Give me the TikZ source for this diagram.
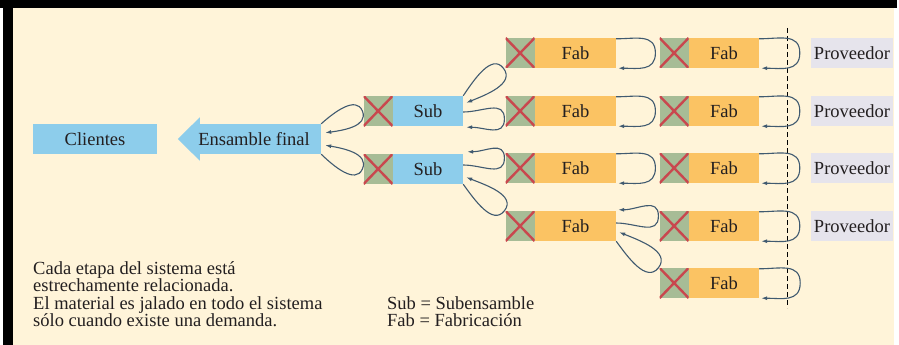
\documentclass[tikz,border=0pt]{standalone}
\usepackage{fontspec}
\setmainfont{Liberation Serif}
\usetikzlibrary{arrows.meta,calc}
\definecolor{cream}{HTML}{FFF4D9}
\definecolor{sky}{HTML}{8DCDEB}
\definecolor{amber}{HTML}{FBC363}
\definecolor{moss}{HTML}{A7BC96}
\definecolor{crossred}{HTML}{C9474E}
\definecolor{lilac}{HTML}{E6E4EC}
\definecolor{steel}{HTML}{405A70}
\definecolor{ink}{HTML}{231F20}
\begin{document}
\begin{tikzpicture}[x=1pt,y=1pt,
  every node/.style={inner sep=0pt, text=ink, font=\fontsize{18.5}{18.5}\selectfont},
  box/.style={rectangle, minimum height=30pt},
  kanban/.style={box, minimum width=29pt, fill=moss,
    path picture={\draw[crossred, line width=2.4pt]
      (path picture bounding box.north west) -- (path picture bounding box.south east)
      (path picture bounding box.south west) -- (path picture bounding box.north east);}},
  subbox/.style={box, minimum width=70pt, fill=sky},
  fabwide/.style={box, minimum width=81pt, fill=amber},
  fabnarrow/.style={box, minimum width=70pt, fill=amber},
  supplier/.style={box, minimum width=82pt, fill=lilac},
  kloop/.style={draw=steel, line width=1.1pt, -{Latex[length=6pt,width=4pt]}},
]
% frame and background
\useasboundingbox (0,0) rectangle (899,-345);
\fill[white] (0,0) rectangle (899,-345);
\fill[black] (0,0) rectangle (897,-8.5);
\fill[black] (2.5,0) rectangle (12.5,-345);
\fill[cream] (12.5,-8.5) rectangle (894,-345);

% customers and final assembly
\node[box, minimum width=124pt, fill=sky] (cli) at (95,-139) {Clientes};
\node[box, minimum width=121pt, fill=sky] (ens) at (260.5,-139) {};
\fill[sky] (ens.north west) -- ++(0,6.5) -- ($(ens.west)+(-22,0)$)
  -- ($(ens.south west)+(0,-6.5)$) -- (ens.south west) -- cycle;
\node (ensl) at ($(ens.center)+(-6.5,0)$) {Ensamble final};

% subassemblies
\node[subbox] (s1) at (428,-111) {Sub};
\node[kanban, anchor=east] (s1x) at (s1.west) {};
\node[subbox] (s2) at (428,-169) {Sub};
\node[kanban, anchor=east] (s2x) at (s2.west) {};

% fabrication stages
\foreach \r/\y in {1/53,2/111,3/168,4/226} {
  \node[fabwide] (f\r1) at (575.5,-\y) {Fab};
  \node[kanban, anchor=east] (f\r1x) at (f\r1.west) {};
  \node[fabnarrow] (f\r2) at (724,-\y) {Fab};
  \node[kanban, anchor=east] (f\r2x) at (f\r2.west) {};
  \node[supplier] (p\r) at (852,-\y) {Proveedor};
}
\node[fabnarrow] (f52) at (724,-283) {Fab};
\node[kanban, anchor=east] (f52x) at (f52.west) {};

% plant boundary
\coordinate (dtop) at (787,-28);
\coordinate (dbot) at (787,-308);
\draw[black, line width=0.9pt, dash pattern=on 5pt off 3pt] (dtop) -- (dbot);

% pull loops: final assembly <- subassemblies
\draw[kloop] (ens.north east) to[out=42,in=112] ([xshift=-1pt]s1x.west)
  to[out=-68,in=8] ([shift={(4pt,-9pt)}]ens.north east);
\draw[kloop] (ens.south east) to[out=-44,in=-114] ([xshift=-1pt]s2x.west)
  to[out=66,in=-10] ([shift={(4pt,9pt)}]ens.south east);

% subassemblies <- fabrication
\draw[kloop] (s1.north east) to[out=56,in=128] ([xshift=-2pt]f11x.south west)
  to[out=-52,in=22] ([shift={(3pt,-7pt)}]s1.north east);
\draw[kloop] ([yshift=-1pt]s1.east) to[out=0,in=90,looseness=1.2] ([shift={(-1pt,-8pt)}]f21x.west)
  to[out=-90,in=0,looseness=1.2] ([shift={(3pt,-1pt)}]s1.south east);
\draw[kloop] ([yshift=4pt]s2.east) to[out=0,in=-90,looseness=1.2] ([shift={(-1pt,10pt)}]f31x.west)
  to[out=90,in=0,looseness=1.2] ([shift={(4pt,2pt)}]s2.north east);
\draw[kloop] (s2.south east) to[out=-54,in=-128] ([xshift=-1pt]f41x.north west)
  to[out=52,in=-22] ([shift={(3pt,7pt)}]s2.south east);

% fabrication <- fabrication
\foreach \r in {1,2,3} {
  \draw[kloop] ([yshift=-1pt]f\r1.north east) to[out=0,in=90,looseness=1.2] ([xshift=-4pt]f\r2x.west)
    to[out=-90,in=0,looseness=1.2] ([xshift=2pt]f\r1.south east);
}
\draw[kloop] ([yshift=3pt]f41.east) to[out=0,in=-90,looseness=1.2] ([shift={(-1pt,10pt)}]f42x.west)
  to[out=90,in=0,looseness=1.2] ([shift={(2pt,1pt)}]f41.north east);
\draw[kloop] (f41.south east) to[out=-54,in=-128] ([xshift=-1pt]f52x.north west)
  to[out=52,in=-22] ([shift={(3pt,9pt)}]f41.south east);

% fabrication <- suppliers
\foreach \r in {1,...,4} {
  \draw[kloop] ([yshift=-1pt]f\r2.north east) to[out=0,in=90,looseness=1.2] ([xshift=-11pt]p\r.west)
    to[out=-90,in=0,looseness=1.2] ([xshift=2pt]f\r2.south east);
}
\draw[kloop] ([yshift=-1pt]f52.north east) to[out=0,in=90,looseness=1.2] ([xshift=41pt]f52.east)
  to[out=-90,in=0,looseness=1.2] ([xshift=2pt]f52.south east);

% notes
\node[anchor=base west] (n1) at (33,-274) {Cada etapa del sistema está};
\node[anchor=base west] (n2) at (33,-291.5) {estrechamente relacionada.};
\node[anchor=base west] (n3) at (33,-309) {El material es jalado en todo el sistema};
\node[anchor=base west] (n4) at (33,-326.5) {sólo cuando existe una demanda.};
\node[anchor=base west] (k1) at (387,-309) {Sub = Subensamble};
\node[anchor=base west] (k2) at (387,-326.5) {Fab = Fabricación};
\end{tikzpicture}
\end{document}
